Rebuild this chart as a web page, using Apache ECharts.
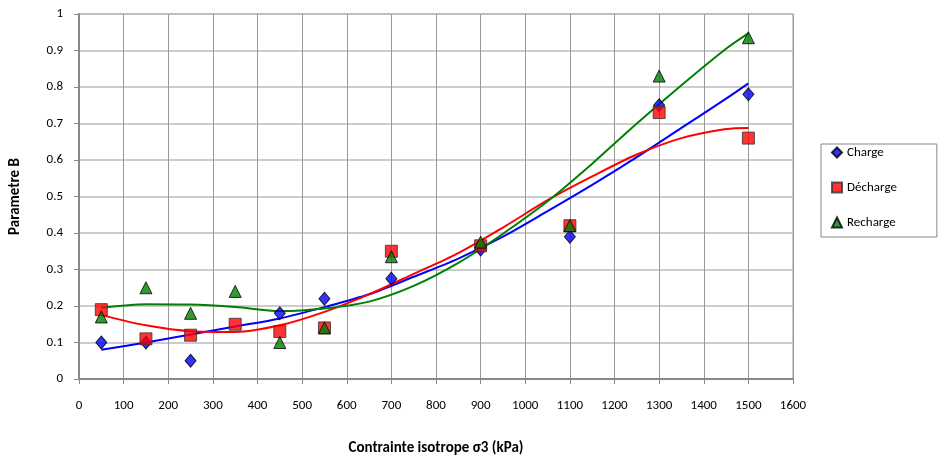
<!DOCTYPE html>
<html>
<head>
<meta charset="utf-8">
<script src="https://cdn.jsdelivr.net/npm/echarts@6/dist/echarts.min.js"></script>
<style>
  html, body { margin: 0; padding: 0; background: #fff; }
  #chart { width: 944px; height: 461px; }
</style>
</head>
<body>
<div id="chart"></div>
<script>
const font = "Carlito, 'Liberation Sans Narrow', 'Noto Sans', sans-serif"

// measured points
const chargeX = [50, 150, 250, 450, 550, 700, 900, 1100, 1300, 1500]
const chargeY = [0.1, 0.1, 0.05, 0.18, 0.22, 0.275, 0.355, 0.39, 0.75, 0.78]
const dechargeX = [50, 150, 250, 350, 450, 550, 700, 900, 1100, 1300, 1500]
const dechargeY = [0.19, 0.11, 0.12, 0.15, 0.13, 0.14, 0.35, 0.365, 0.42, 0.73, 0.66]
const rechargeX = [50, 150, 250, 350, 450, 550, 700, 900, 1100, 1300, 1500]
const rechargeY = [0.17, 0.25, 0.18, 0.24, 0.1, 0.14, 0.335, 0.375, 0.42, 0.83, 0.935]

// trend curves
const trendX = [50, 150, 250, 350, 450, 550, 650, 750, 850, 950, 1050, 1150, 1250, 1350, 1450, 1500]
const trendCharge = [0.08, 0.1, 0.122, 0.144, 0.166, 0.197, 0.232, 0.28, 0.33, 0.39, 0.46, 0.532, 0.608, 0.688, 0.768, 0.81]
const trendDecharge = [0.175, 0.147, 0.131, 0.129, 0.147, 0.184, 0.232, 0.288, 0.345, 0.415, 0.49, 0.555, 0.615, 0.66, 0.685, 0.688]
const trendRecharge = [0.195, 0.205, 0.204, 0.197, 0.186, 0.193, 0.212, 0.255, 0.318, 0.398, 0.487, 0.59, 0.7, 0.805, 0.905, 0.947]

const pairs = (xs, ys) => xs.map((x, i) => [x, ys[i]])

const chart = echarts.init(document.getElementById('chart'))

const option = {
  animation: false,
  textStyle: { fontFamily: font },
  grid: {
    left: 77,
    right: 151,
    top: 14,
    bottom: 82,
    show: true,
    borderColor: '#999',
    borderWidth: 1
  },
  legend: {
    orient: 'vertical',
    left: 821,
    top: 144,
    padding: [2, 40, 8, 10],
    itemGap: 22,
    itemWidth: 10,
    itemHeight: 10,
    borderColor: '#888',
    borderWidth: 1,
    textStyle: { fontSize: 13, color: '#000', fontFamily: font },
    data: ['Charge', 'Décharge', 'Recharge']
  },
  xAxis: {
    type: 'value',
    min: 0,
    max: 1600,
    interval: 100,
    name: 'Contrainte isotrope σ3 (kPa)',
    nameLocation: 'middle',
    nameGap: 62,
    nameTextStyle: { fontSize: 15, fontWeight: 'bold', color: '#000' },
    axisLine: { lineStyle: { color: '#888', width: 2 } },
    axisTick: { show: true, length: 5, lineStyle: { color: '#888' } },
    axisLabel: { fontSize: 13, color: '#000', margin: 20, formatter: v => String(v) },
    splitLine: { show: true, lineStyle: { color: '#999', width: 1 } }
  },
  yAxis: {
    type: 'value',
    min: 0,
    max: 1,
    interval: 0.1,
    name: 'Parametre B',
    nameLocation: 'middle',
    nameGap: 56,
    nameTextStyle: { fontSize: 15, fontWeight: 'bold', color: '#000' },
    axisLine: { show: true, lineStyle: { color: '#888', width: 2 } },
    axisTick: { show: true, length: 5, lineStyle: { color: '#888' } },
    axisLabel: { fontSize: 13, color: '#000', margin: 16 },
    splitLine: { show: true, lineStyle: { color: '#bbb', width: 1.5 } }
  },
  series: [
    {
      name: 'trend charge',
      type: 'line',
      data: pairs(trendX, trendCharge),
      smooth: 0.3,
      showSymbol: false,
      silent: true,
      lineStyle: { color: '#0000ff', width: 2 },
      z: 2
    },
    {
      name: 'trend decharge',
      type: 'line',
      data: pairs(trendX, trendDecharge),
      smooth: 0.3,
      showSymbol: false,
      silent: true,
      lineStyle: { color: '#ff0000', width: 2 },
      z: 2
    },
    {
      name: 'trend recharge',
      type: 'line',
      data: pairs(trendX, trendRecharge),
      smooth: 0.3,
      showSymbol: false,
      silent: true,
      lineStyle: { color: '#008000', width: 2 },
      z: 2
    },
    {
      name: 'Charge',
      type: 'scatter',
      data: pairs(chargeX, chargeY),
      symbol: 'diamond',
      symbolSize: [11, 13],
      itemStyle: { color: '#0000ff', borderColor: '#000', borderWidth: 1 },
      z: 3
    },
    {
      name: 'Décharge',
      type: 'scatter',
      data: pairs(dechargeX, dechargeY),
      symbol: 'rect',
      symbolSize: 12,
      itemStyle: { color: '#ff0000', borderColor: '#333', borderWidth: 1 },
      z: 4
    },
    {
      name: 'Recharge',
      type: 'scatter',
      data: pairs(rechargeX, rechargeY),
      symbol: 'triangle',
      symbolSize: 12,
      itemStyle: { color: '#008000', borderColor: '#000', borderWidth: 1 },
      z: 5
    }
  ]
}

chart.setOption(option)
</script>
</body>
</html>
